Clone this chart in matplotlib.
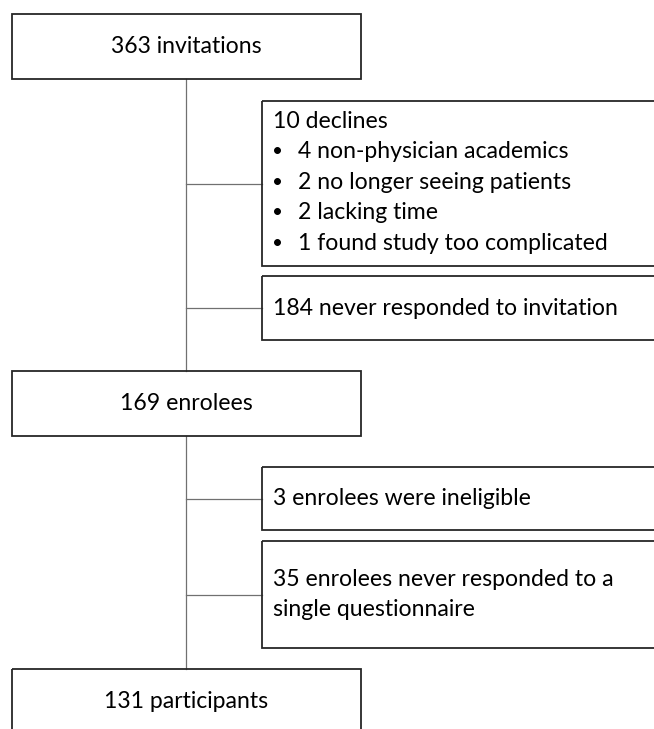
import matplotlib
matplotlib.use("Agg")
import matplotlib.pyplot as plt
from matplotlib.patches import Rectangle

plt.rcParams['font.family'] = ['Lato', 'DejaVu Sans']

# flow counts
main_labels = ['363 invitations', '169 enrolees', '131 participants']
decline_head = '10 declines'
decline_reasons = ['4 non-physician academics', '2 no longer seeing patients',
                   '2 lacking time', '1 found study too complicated']
side_labels = [None, '184 never responded to invitation',
               '3 enrolees were ineligible',
               '35 enrolees never responded to a\nsingle questionnaire']

# layout in pixels (y downwards)
W, H = 654, 729
main_boxes = [(12, 14, 361, 79), (12, 371, 361, 436), (12, 669, 361, 760)]
side_boxes = [(262, 101, 660, 266), (262, 276, 660, 340),
              (262, 467, 660, 530), (262, 541, 660, 648)]
spine_x = 186
fs = 16.6
edge = '#262626'
conn = '#707070'

fig = plt.figure(figsize=(W / 100, H / 100), dpi=100)
ax = fig.add_axes([0, 0, 1, 1])
ax.set_xlim(0, W)
ax.set_ylim(H, 0)
ax.axis('off')


def box(b):
    x0, y0, x1, y1 = b
    ax.add_patch(Rectangle((x0, y0), x1 - x0, y1 - y0, fill=False,
                           edgecolor=edge, linewidth=1.3, zorder=3))


# vertical spine between main boxes
for top, bot in zip(main_boxes[:-1], main_boxes[1:]):
    ax.plot([spine_x, spine_x], [top[3], bot[1]], color=conn, lw=0.9, zorder=1)

# branches to side boxes
for b in side_boxes:
    ym = (b[1] + b[3]) / 2
    ax.plot([spine_x, b[0]], [ym, ym], color=conn, lw=0.9, zorder=1)

for b, lab in zip(main_boxes, main_labels):
    box(b)
    ym = (b[1] + min(b[3], b[1] + 65)) / 2
    ax.text(spine_x, ym, lab, ha='center', va='center', fontsize=fs, color='black')

for b in side_boxes:
    box(b)

# declines box with bullet list
lines = [decline_head] + decline_reasons
y_first = side_boxes[0][1] + 20
step = 30.5
for i, t in enumerate(lines):
    y = y_first + i * step
    if i == 0:
        ax.text(273, y, t, ha='left', va='center', fontsize=fs)
    else:
        ax.text(277, y, '\u2022', ha='center', va='center', fontsize=fs - 3)
        ax.text(298, y, t, ha='left', va='center', fontsize=fs)

for b, lab in zip(side_boxes[1:], side_labels[1:]):
    rows = lab.split('\n')
    yc = (b[1] + b[3]) / 2
    for j, r in enumerate(rows):
        y = yc + (j - (len(rows) - 1) / 2) * step
        ax.text(273, y, r, ha='left', va='center', fontsize=fs)

fig.savefig('out.png', dpi=100, facecolor='white')
